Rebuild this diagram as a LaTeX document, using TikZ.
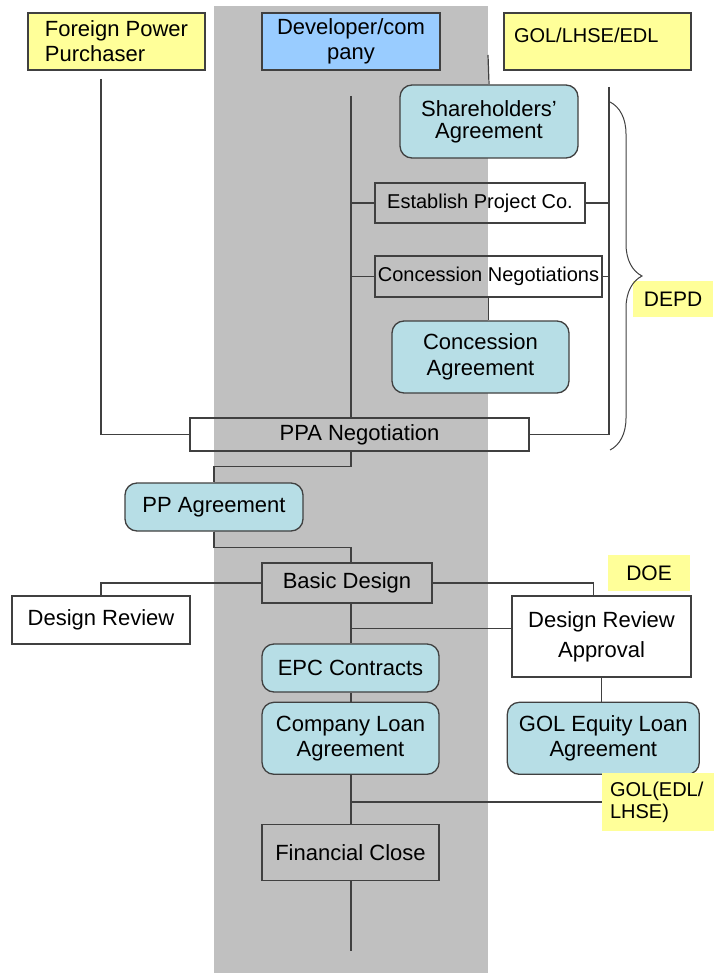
\documentclass[tikz,border=0pt]{standalone}
\usepackage{fontspec}
\setmainfont{Liberation Sans}
\usetikzlibrary{calc, positioning, decorations.pathreplacing}
\definecolor{bandgray}{RGB}{192,192,192}
\definecolor{lblyellow}{RGB}{255,255,153}
\definecolor{devblue}{RGB}{153,204,255}
\definecolor{agrteal}{RGB}{183,222,230}
\definecolor{linegray}{RGB}{64,64,64}
\tikzset{
  every node/.style={font=\fontsize{11}{12.5}\selectfont, inner sep=0pt, align=center},
  boxsize/.style 2 args={minimum width=#1*0.5pt, minimum height=#2*0.5pt},
  plainbox/.style={draw=linegray, line width=0.65pt},
  agreebox/.style={plainbox, fill=agrteal, rounded corners=6pt},
  tag/.style={fill=lblyellow, font=\fontsize{10.5}{11}\selectfont},
  small/.style={font=\fontsize{10}{11}\selectfont},
  conn/.style={draw=linegray, line width=0.6pt},
}
\begin{document}
\begin{tikzpicture}[x=0.5pt, y=-0.5pt]
		\useasboundingbox (0,0) rectangle (714,973);
		\fill[bandgray] (214,6) rectangle (488,973);
		
		% parties
		\node(fpp) [plainbox, fill=lblyellow, boxsize={177}{57}, align=left] at (116.5,41.5) {Foreign Power\\Purchaser};
		\node(dev) [plainbox, fill=devblue, boxsize={178}{57}] at (351,41.5) {Developer/com\\pany};
		\node(gol) [plainbox, fill=lblyellow, small, align=left, text width=83.5pt, inner xsep=5pt, minimum height=28.5pt, text height=7pt, text depth=6pt] at (597.5,41.5) {GOL/LHSE/EDL};
		
		% development stage
		\node(sha) [agreebox, boxsize={178}{73}] at (489,121.5) {Shareholders'\\[-1.5pt]Agreement};
		\node(est) [plainbox, small, boxsize={210}{40}] at (480,203) {Establish Project Co.};
		\node(cn) [plainbox, small, boxsize={227}{41}] at (488.5,276.5) {Concession Negotiations};
		\node(ca) [agreebox, boxsize={177}{72}] at (480.5,357) {Concession\\[0.5pt]Agreement};
		\node(ppa) [plainbox, boxsize={339}{33}] at (359.5,434.5) {PPA Negotiation};
		\node(ppag) [agreebox, boxsize={178}{48}] at (214,507) {PP Agreement};
		\node(depd) [tag, boxsize={80}{36}] at (673,299) {DEPD};
		
		% design and financing
		\node(bd) [plainbox, boxsize={170}{40}] at (347,583) {Basic Design};
		\node(dr) [plainbox, fill=white, boxsize={178}{48}] at (101,620) {Design Review};
		\node(dra) [plainbox, fill=white, boxsize={179}{81}] at (601.5,636.5) {Design Review\\[2.5pt]Approval};
		\node(doe) [tag, boxsize={82}{36}] at (649,573) {DOE};
		\node(epc) [agreebox, boxsize={177}{48}] at (350.5,668) {EPC Contracts};
		\node(cla) [agreebox, boxsize={177}{72}, below=4.5pt of epc] {Company Loan\\Agreement};
		\node(gel) [agreebox, boxsize={192}{72}, right=33.5pt of cla] {GOL Equity Loan\\Agreement};
		\node(gole) [tag, small, align=left, text width=48pt, inner xsep=4pt, minimum height=29pt] at (658,802) {GOL(EDL/\\LHSE)};
		\node(fc) [plainbox, boxsize={177}{56}, below=24.5pt of cla] {Financial Close};
		
		\coordinate (fpptop) at (101,79);
		\coordinate (devtop) at (351,96);
		\coordinate (devend) at (351,951);
		\coordinate (goltop) at (609,87);
		\coordinate (shatop) at (488,55);
		
		\draw[conn] (fpptop) |- (ppa.west);
		\draw[conn] (devtop) -- (devtop |- ppa.north);
		\draw[conn] (devtop |- est.west) -- (est.west);
		\draw[conn] (devtop |- cn.west) -- (cn.west);
		\draw[conn] (shatop) -- (sha.north);
		\draw[conn] (goltop) |- (ppa.east);
		\draw[conn] (est.east) -- (est.east -| goltop);
		\draw[conn] (cn.east) -- (cn.east -| goltop);
		\draw[conn] (cn.south) -- (cn.south |- ca.north);
		\draw[linegray, line width=0.5pt, decorate, decoration={brace, amplitude=16pt}] (610,102) -- (610,450);
		
		\draw[conn] (devtop |- ppa.south) -- ++(0,15) -| (ppag.north);
		\draw[conn] (ppag.south) -- ++(0,16) -| (devtop |- bd.north);
		\draw[conn] (bd.west) -| (dr.north);
		\draw[conn] (bd.east) -| ($(dra.north)+(-8,0)$);
		\draw[conn] (devtop |- bd.south) -- (devtop |- epc.north);
		\draw[conn] ($(devtop |- dra.west)+(0,-8)$) -- ($(dra.west)+(0,-8)$);
		\draw[conn] (dra.south) -- (dra.south |- gel.north);
		\draw[conn] (devtop |- epc.south) -- (devtop |- cla.north);
		\draw[conn] (devtop |- cla.south) -- (devtop |- fc.north);
		\draw[conn] (devtop |- gole.west) -- (gole.west);
		\draw[conn] (devtop |- fc.south) -- (devend);
		
		\end{tikzpicture}
\end{document}
